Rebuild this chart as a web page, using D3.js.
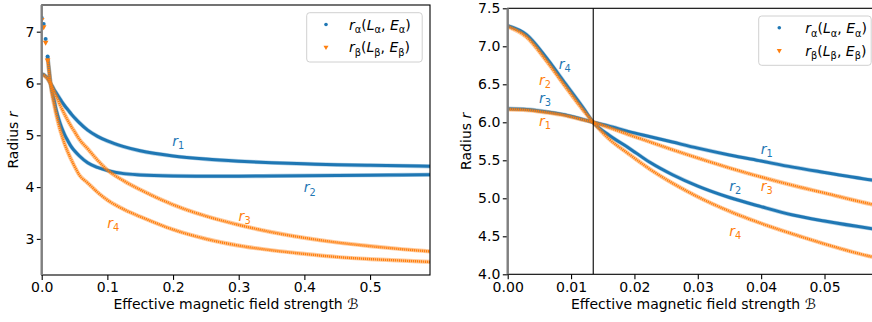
<!DOCTYPE html>
<html>
<head>
<meta charset="utf-8">
<script src="https://cdn.jsdelivr.net/npm/d3@7"></script>
<style>
  html, body { margin: 0; padding: 0; background: #fff; }
  svg { display: block; font-family: "DejaVu Sans", sans-serif; }
</style>
</head>
<body>
<svg id="chart" width="872" height="322"></svg>
<script>
// Effective magnetic field strength samples
const fieldB = [0, 0.003, 0.006, 0.009, 0.012, 0.0135, 0.016, 0.019, 0.0225, 0.026, 0.03, 0.035, 0.04, 0.045, 0.05, 0.0575,
                0.07, 0.085, 0.1, 0.125, 0.15, 0.2, 0.25, 0.3, 0.35, 0.4, 0.45, 0.5, 0.55, 0.6];

// r_alpha branches (blue)
const alphaLow  = [6.18, 6.17, 6.14, 6.10, 6.035, 6.00, 5.95, 5.88, 5.81, 5.74, 5.66, 5.57, 5.49, 5.41, 5.34, 5.24,
                   5.10, 4.98, 4.89, 4.78, 4.70, 4.60, 4.54, 4.50, 4.47, 4.45, 4.43, 4.42, 4.41, 4.40];
const alphaHigh = [7.27, 7.15, 6.86, 6.52, 6.18, 6.00, 5.83, 5.67, 5.47, 5.31, 5.16, 5.01, 4.89, 4.78, 4.70, 4.60,
                   4.47, 4.38, 4.32, 4.26, 4.235, 4.215, 4.21, 4.21, 4.215, 4.22, 4.225, 4.23, 4.235, 4.24];
// r_beta branches (orange)
const betaLow   = [6.17, 6.16, 6.13, 6.09, 6.03, 6.00, 5.93, 5.84, 5.74, 5.64, 5.53, 5.40, 5.28, 5.17, 5.07, 4.92,
                   4.74, 4.52, 4.33, 4.12, 3.95, 3.66, 3.44, 3.27, 3.13, 3.02, 2.93, 2.86, 2.80, 2.75];
const betaHigh  = [7.26, 7.12, 6.82, 6.48, 6.15, 6.00, 5.78, 5.59, 5.38, 5.20, 5.02, 4.83, 4.67, 4.53, 4.40, 4.23,
                   4.08, 3.90, 3.75, 3.57, 3.43, 3.18, 3.00, 2.87, 2.78, 2.71, 2.65, 2.61, 2.58, 2.55];

// Crossing field marked on the zoomed panel
const crossingB = 0.0135;

// Tick values
const leftXTicks  = [0.0, 0.1, 0.2, 0.3, 0.4, 0.5];
const leftYTicks  = [3, 4, 5, 6, 7];
const rightXTicks = [0.00, 0.01, 0.02, 0.03, 0.04, 0.05];
const rightYTicks = [4.0, 4.5, 5.0, 5.5, 6.0, 6.5, 7.0, 7.5];

// Branch labels: [index, series, B, r]
const leftLabels  = [["1", "a", 0.208, 4.88], ["2", "a", 0.408, 3.98], ["3", "b", 0.309, 3.43], ["4", "b", 0.109, 3.29]];
const rightLabels = [["4", "a", 0.0090, 6.754], ["2", "b", 0.0059, 6.547], ["3", "a", 0.0059, 6.307], ["1", "b", 0.0059, 6.008],
                     ["1", "a", 0.0409, 5.636], ["2", "a", 0.0359, 5.153], ["3", "b", 0.0409, 5.153], ["4", "b", 0.0359, 4.561]];

const BLUE = "#1f77b4", ORANGE = "#ff7f0e";
const FONT = 14;

const svg = d3.select("#chart");

function rows(vals) { return fieldB.map((b, i) => [b, vals[i]]); }

// Text made of parts {t, it, sub}
function mathText(g, x, y, parts, color, anchor) {
  const t = g.append("text").attr("x", x).attr("y", y).attr("fill", color || "#000")
    .attr("font-size", FONT).attr("text-anchor", anchor || "start");
  let shifted = false;
  parts.forEach(p => {
    const s = t.append("tspan").text(p.t);
    if (p.it) s.attr("font-style", "italic");
    if (p.sub && !shifted) { s.attr("dy", 3.5).attr("font-size", FONT * 0.7); shifted = true; }
    else if (p.sub) { s.attr("font-size", FONT * 0.7); }
    else if (!p.sub && shifted) { s.attr("dy", -3.5); shifted = false; }
  });
  return t;
}

function drawPanel(opt) {
  const { x, y, xTicks, yTicks, xFmt, yFmt, id, labels, sparse } = opt;
  const g = svg.append("g");
  const [x0, x1] = x.range(), [y0, y1] = y.range();

  g.append("clipPath").attr("id", id).append("rect")
    .attr("x", x0).attr("y", y1).attr("width", x1 - x0).attr("height", y0 - y1);
  const plot = g.append("g").attr("clip-path", `url(#${id})`);

  const line = d3.line().x(d => x(d[0])).y(d => y(d[1])).curve(d3.curveMonotoneX);

  const series = [
    { vals: alphaLow,  kind: "a", steep: false },
    { vals: alphaHigh, kind: "a", steep: true },
    { vals: betaLow,   kind: "b", steep: false },
    { vals: betaHigh,  kind: "b", steep: true }
  ];
  series.forEach(s => {
    let pts = rows(s.vals);
    let dots = [];
    if (sparse && s.steep) {
      dots = pts.filter(d => d[0] < 0.012);
      pts = pts.filter(d => d[0] >= 0.009);
    }
    if (s.kind === "a") {
      plot.append("path").attr("d", line(pts)).attr("fill", "none")
        .attr("stroke", BLUE).attr("stroke-opacity", 0.35).attr("stroke-width", 4.2);
      plot.append("path").attr("d", line(pts)).attr("fill", "none")
        .attr("stroke", BLUE).attr("stroke-width", 3);
      plot.selectAll(null).data(dots).join("circle")
        .attr("cx", d => x(d[0])).attr("cy", d => y(d[1])).attr("r", 2).attr("fill", BLUE);
    } else {
      plot.append("path").attr("d", line(pts)).attr("fill", "none")
        .attr("stroke", ORANGE).attr("stroke-opacity", 0.4).attr("stroke-width", 4.2);
      plot.append("path").attr("d", line(pts)).attr("fill", "none")
        .attr("stroke", ORANGE).attr("stroke-width", 2.4).attr("stroke-dasharray", "1.3 0.7");
      plot.selectAll(null).data(dots).join("path")
        .attr("d", d3.symbol(d3.symbolTriangle, 14))
        .attr("transform", d => `translate(${x(d[0])},${y(d[1]) + 1.5}) rotate(180)`)
        .attr("fill", ORANGE);
    }
  });

  if (opt.vline != null) {
    plot.append("line").attr("x1", x(opt.vline)).attr("x2", x(opt.vline)).attr("y1", y1).attr("y2", y0)
      .attr("stroke", "#000").attr("stroke-width", 1.1);
  }

  // Branch labels
  labels.forEach(l => {
    mathText(plot, x(l[2]), y(l[3]) + 4, [{ t: "r", it: true }, { t: l[0], sub: true }],
      l[1] === "a" ? BLUE : ORANGE, "middle");
  });

  // Axes
  const xa = g.append("g").attr("transform", `translate(0,${y0})`)
    .call(d3.axisBottom(x).tickValues(xTicks).tickFormat(d3.format(xFmt)).tickSizeOuter(0).tickSize(4.9).tickPadding(2.5));
  const ya = g.append("g").attr("transform", `translate(${x0},0)`)
    .call(d3.axisLeft(y).tickValues(yTicks).tickFormat(d3.format(yFmt)).tickSizeOuter(0).tickSize(4.9).tickPadding(2.5));
  [xa, ya].forEach(a => {
    a.selectAll("text").attr("font-size", FONT).attr("font-family", "DejaVu Sans").attr("fill", "#000");
    a.selectAll(".tick line").attr("stroke-width", 1.1);
    a.select(".domain").remove();
  });

  // Frame, with a gray line along zero field
  g.append("rect").attr("x", x0).attr("y", y1).attr("width", x1 - x0).attr("height", y0 - y1)
    .attr("fill", "none").attr("stroke", "#000").attr("stroke-width", 1.1);
  g.append("line").attr("x1", x0).attr("x2", x0).attr("y1", y1).attr("y2", y0)
    .attr("stroke", "#808080").attr("stroke-width", 2.4);

  // Axis titles
  const xt = g.append("text").attr("x", (x0 + Math.min(x1, 872 + (x1 - 872))) / 2).attr("y", opt.xTitleY)
    .attr("text-anchor", "middle").attr("font-size", FONT);
  xt.append("tspan").text("Effective magnetic field strength ");
  xt.append("tspan").text("\u212C").attr("font-style", "italic");

  const yt = g.append("text").attr("transform", `translate(${opt.yTitleX},${(y0 + y1) / 2}) rotate(-90)`)
    .attr("text-anchor", "middle").attr("font-size", FONT);
  yt.append("tspan").text("Radius ");
  yt.append("tspan").text("r").attr("font-style", "italic");

  // Legend
  const L = opt.legend;
  const lg = g.append("g");
  lg.append("rect").attr("x", L.x).attr("y", L.y).attr("width", L.w).attr("height", L.h)
    .attr("rx", 3).attr("fill", "#fff").attr("fill-opacity", 0.8).attr("stroke", "#d0d0d0").attr("stroke-width", 1);
  lg.append("circle").attr("cx", L.mx).attr("cy", L.y + 11.8).attr("r", 1.8).attr("fill", BLUE);
  lg.append("path").attr("d", d3.symbol(d3.symbolTriangle, 11))
    .attr("transform", `translate(${L.mx},${L.y + 34.5}) rotate(180)`).attr("fill", ORANGE);
  mathText(lg, L.tx, L.y + 17, [{ t: "r", it: true }, { t: "\u03b1", sub: true }, { t: "(" }, { t: "L", it: true },
    { t: "\u03b1", sub: true }, { t: ", " }, { t: "E", it: true }, { t: "\u03b1", sub: true }, { t: ")" }]);
  mathText(lg, L.tx, L.y + 39.5, [{ t: "r", it: true }, { t: "\u03b2", sub: true }, { t: "(" }, { t: "L", it: true },
    { t: "\u03b2", sub: true }, { t: ", " }, { t: "E", it: true }, { t: "\u03b2", sub: true }, { t: ")" }]);
}

drawPanel({
  id: "clipL",
  x: d3.scaleLinear().domain([0, 0.5913]).range([41.7, 430]),
  y: d3.scaleLinear().domain([2.303, 7.515]).range([275, 5]),
  xTicks: leftXTicks, yTicks: leftYTicks, xFmt: ".1f", yFmt: "d",
  labels: leftLabels, sparse: true,
  xTitleY: 308.5, yTitleX: 18,
  legend: { x: 306.7, y: 12.7, w: 115.5, h: 49.3, mx: 326, tx: 349 }
});

drawPanel({
  id: "clipR",
  x: d3.scaleLinear().domain([0, 0.0586]).range([507.7, 879]),
  y: d3.scaleLinear().domain([4, 7.5]).range([274.3, 8.3]),
  xTicks: rightXTicks, yTicks: rightYTicks, xFmt: ".2f", yFmt: ".1f",
  labels: rightLabels, sparse: false, vline: crossingB,
  xTitleY: 308.5, yTitleX: 471,
  legend: { x: 758.7, y: 16, w: 112.5, h: 49.3, mx: 779.3, tx: 805.3 }
});
</script>
</body>
</html>
